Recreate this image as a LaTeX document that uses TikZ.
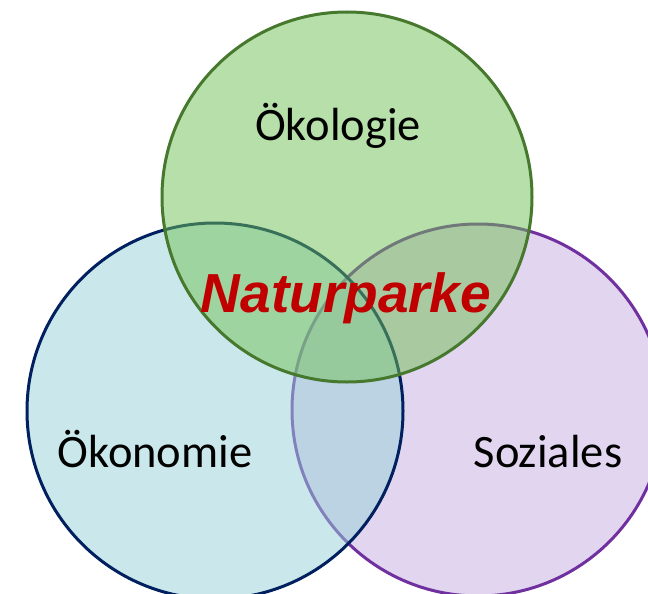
\documentclass[tikz,border=0pt]{standalone}
\usepackage{fontspec}
\setmainfont{Carlito}
\newfontfamily\arialfont{Liberation Sans}
\definecolor{purplefill}{RGB}{199,173,225}
\definecolor{purpleline}{RGB}{112,48,160}
\definecolor{bluefill}{RGB}{151,211,217}
\definecolor{blueline}{RGB}{0,32,96}
\definecolor{greenfill}{RGB}{113,193,85}
\definecolor{greenline}{RGB}{70,120,45}
\definecolor{titlered}{RGB}{192,0,0}
\tikzset{
  ring/.style={circle, inner sep=0pt, line width=3pt, fill opacity=0.5},
  label/.style={anchor=base, font=\fontsize{46.5}{50}\selectfont, text=black},
  title/.style={anchor=base, font=\arialfont\bfseries\itshape\fontsize{55}{59}\selectfont, text=titlered}
}
\begin{document}
\begin{tikzpicture}[x=1pt,y=-1pt]
\useasboundingbox (0,0) rectangle (648,594);
\clip (0,0) rectangle (648,594);
\fill[white] (0,0) rectangle (648,594);
\node[ring, draw=purpleline, fill=purplefill, minimum size=372pt] (soz) at (478,410) {};
\node[ring, draw=blueline, fill=bluefill, minimum size=376pt] (oek) at (215,411) {};
\node[ring, draw=greenline, fill=greenfill, minimum size=370pt] (eco) at (347,197) {};
\node[label] (tEco) at (338,140) {Ökologie};
\node[label] (tOek) at (155,467) {Ökonomie};
\node[label] (tSoz) at (548,467) {Soziales};
\node[title] (tNat) at (346,312) {Naturparke};
\end{tikzpicture}
\end{document}
